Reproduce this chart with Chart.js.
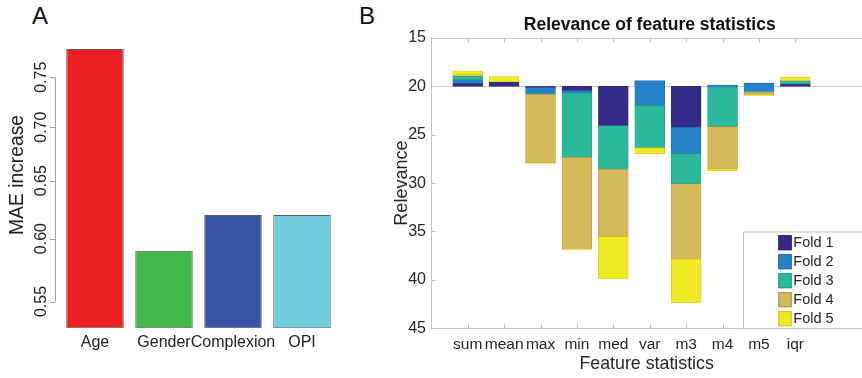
<!DOCTYPE html>
<html>
<head>
<meta charset="utf-8">
<script src="https://cdn.jsdelivr.net/npm/chart.js@4.4.1/dist/chart.umd.min.js"></script>
<style>
  html, body { margin: 0; padding: 0; background: #fff; overflow: hidden; }
  #wrap { position: relative; width: 862px; height: 378px; }
  canvas { position: absolute; top: 0; }
  #panelA { left: 0; }
  #panelB { left: 360px; }
  .tag { position: absolute; top: 4px; font: 24px/24px "Liberation Sans", Arial, sans-serif; color: #111; }
</style>
</head>
<body>
<div id="wrap">
  <div class="tag" style="left:32px">A</div>
  <div class="tag" style="left:359px">B</div>
  <canvas id="panelA" width="350" height="378"></canvas>
  <canvas id="panelB" width="502" height="378"></canvas>
</div>
<script>
// --- Panel A : MAE increase par variable
const maeCategories = ['Age', 'Gender', 'Complexion', 'OPI'];
const maeIncrease = [0.780, 0.590, 0.620, 0.620];
const maeTicks = [0.55, 0.60, 0.65, 0.70, 0.75];

// --- Panel B : relevance, empilée à partir de la valeur de base 20
const featureStats = ['sum', 'mean', 'max', 'min', 'med', 'var', 'm3', 'm4', 'm5', 'iqr'];
const foldNames = ['Fold 1', 'Fold 2', 'Fold 3', 'Fold 4', 'Fold 5'];
const relevanceBase = 20;
const fold1 = [-0.31, -0.45, 0.15, 0.45, 4.07, -0.55, 4.24, -0.13, -0.33, -0.24];
const fold2 = [-0.37, 0, 0.62, 0.25, 0, 2.55, 2.73, 0.23, 0.85, -0.02];
const fold3 = [-0.38, 0, 0.05, 6.65, 4.50, 4.34, 3.10, 4.07, 0.10, -0.27];
const fold4 = [-0.14, 0, 7.10, 9.47, 6.96, 0.03, 7.81, 4.37, 0.30, -0.10];
const fold5 = [-0.37, -0.55, 0.03, 0.03, 4.37, 0.60, 4.48, 0.18, 0.05, -0.31];
const relevanceTicks = [15, 20, 25, 30, 35, 40, 45];

const MAE_COLORS = ['#ed2024', '#42b74a', '#3954a4', '#6fcddd'];
const FOLD_COLORS = ['#352a87', '#2582c8', '#2ab99b', '#d6b958', '#f0ea23'];
const FOLD_EDGES = ['#2a2270', '#1f6ba6', '#23987f', '#a89047', '#c9c31f'];
const FONT = '"Liberation Sans", Arial, sans-serif';
const TXT = '#262626';
const AXIS = '#c4c4c4';

/** Axe Y de R (log) dessiné à la main : ligne, graduations, libellés tournés */
const maeAxis = {
  id: 'maeAxis',
  afterDraw(chart) {
    const { ctx, chartArea: a, scales: { y } } = chart;
    const ax = a.left - 5;
    ctx.save();
    ctx.strokeStyle = '#a0a0a0';
    ctx.lineWidth = 1;
    ctx.beginPath();
    ctx.moveTo(ax, y.getPixelForValue(maeTicks[maeTicks.length - 1]));
    ctx.lineTo(ax, y.getPixelForValue(maeTicks[0]));
    maeTicks.forEach(t => {
      const py = Math.round(y.getPixelForValue(t)) + 0.5;
      ctx.moveTo(ax, py);
      ctx.lineTo(ax - 5.5, py);
    });
    ctx.stroke();
    ctx.fillStyle = '#222';
    ctx.textAlign = 'center';
    ctx.textBaseline = 'alphabetic';
    ctx.font = '16px ' + FONT;
    maeTicks.forEach(t => {
      ctx.save();
      ctx.translate(ax - 10, y.getPixelForValue(t));
      ctx.rotate(-Math.PI / 2);
      ctx.fillText(t.toFixed(2), 0, 0);
      ctx.restore();
    });
    ctx.font = '19.3px ' + FONT;
    ctx.translate(23.3, 175);
    ctx.rotate(-Math.PI / 2);
    ctx.fillText('MAE increase', 0, 0);
    ctx.restore();
  }
};

new Chart(document.getElementById('panelA'), {
  type: 'bar',
  data: {
    labels: maeCategories,
    datasets: [{
      data: maeIncrease,
      backgroundColor: MAE_COLORS,
      borderColor: 'rgba(0,0,0,0.65)',
      borderWidth: 1,
      borderSkipped: false,
      barPercentage: 0.833,
      categoryPercentage: 1
    }]
  },
  options: {
    responsive: false,
    animation: false,
    layout: { padding: { left: 60.5, right: 13.5, top: 39.7, bottom: 0 } },
    plugins: { legend: { display: false }, tooltip: { enabled: false } },
    scales: {
      x: {
        grid: { display: false, drawTicks: false },
        border: { display: false },
        ticks: { color: '#222', font: { family: FONT, size: 16 }, padding: 4.9, maxRotation: 0, autoSkip: false },
        afterFit: s => { s.height = 49.7; }
      },
      y: {
        type: 'logarithmic',
        display: false,
        min: 0.5315,
        max: 0.79
      }
    }
  },
  plugins: [maeAxis]
});

/** Titre, cadre haut, graduations intérieures (style MATLAB) et légende */
const relevanceDecor = {
  id: 'relevanceDecor',
  afterDraw(chart) {
    const { ctx, chartArea: a, scales: { x, y } } = chart;
    ctx.save();
    ctx.strokeStyle = AXIS;
    ctx.lineWidth = 1;
    ctx.beginPath();
    ctx.moveTo(a.left, Math.round(a.top) + 0.5);
    ctx.lineTo(a.right, Math.round(a.top) + 0.5);
    featureStats.forEach((_, i) => {
      const px = Math.round(x.getPixelForValue(i + 1)) + 0.5;
      ctx.moveTo(px, a.top);
      ctx.lineTo(px, a.top + 4.5);
      ctx.moveTo(px, a.bottom);
      ctx.lineTo(px, a.bottom - 4.5);
    });
    relevanceTicks.forEach(t => {
      const py = Math.round(y.getPixelForValue(t)) + 0.5;
      ctx.moveTo(a.left, py);
      ctx.lineTo(a.left + 4, py);
    });
    ctx.stroke();

    // titre centré sur l'axe complet (0..12)
    ctx.fillStyle = '#111';
    ctx.font = 'bold 17.5px ' + FONT;
    ctx.textAlign = 'center';
    ctx.textBaseline = 'middle';
    ctx.fillText('Relevance of feature statistics', x.getPixelForValue(6), 25);

    // légende
    const bx = a.right - 119, by = 231.5;
    ctx.fillStyle = '#fff';
    ctx.fillRect(bx, by, a.right - bx, a.bottom - by);
    ctx.strokeStyle = AXIS;
    ctx.strokeRect(bx + 0.5, by + 0.5, a.right - bx + 5, a.bottom - by);
    ctx.font = '14.5px ' + FONT;
    ctx.textAlign = 'left';
    chart.data.datasets.forEach((ds, i) => {
      const cy = by + 11.2 + i * 19;
      ctx.fillStyle = ds.backgroundColor;
      ctx.fillRect(bx + 35.3, cy - 7.5, 13.4, 15);
      ctx.strokeStyle = ds.borderColor;
      ctx.strokeRect(bx + 35.8, cy - 7, 12.4, 14);
      ctx.fillStyle = TXT;
      ctx.fillText(ds.label, bx + 50.3, cy + 0.5);
    });
    ctx.restore();
  }
};

// segments flottants cumulés (fold suivant dessiné par-dessus le précédent)
const foldValues = [fold1, fold2, fold3, fold4, fold5];
const running = featureStats.map(() => relevanceBase);
const foldDatasets = foldValues.map((vals, f) => {
  const data = [];
  vals.forEach((v, i) => {
    const start = running[i];
    running[i] = start + v;
    if (v !== 0) data.push({ x: i + 1, y: [start, start + v] });
  });
  return {
    label: foldNames[f],
    data,
    backgroundColor: FOLD_COLORS[f],
    borderColor: FOLD_EDGES[f],
    borderWidth: 0.6,
    borderSkipped: false,
    inflateAmount: 0.4,
    grouped: false,
    barPercentage: 0.815,
    categoryPercentage: 1,
    order: foldNames.length - f
  };
});

new Chart(document.getElementById('panelB'), {
  type: 'bar',
  data: { datasets: foldDatasets },
  options: {
    responsive: false,
    animation: false,
    layout: { padding: { left: 0, right: 0, top: 37.9, bottom: 0 } },
    plugins: { legend: { display: false }, tooltip: { enabled: false } },
    scales: {
      x: {
        type: 'linear',
        min: 0,
        max: 11.83,
        offset: false,
        grid: { display: false, drawTicks: false, offset: false },
        border: { color: AXIS },
        afterBuildTicks: s => { s.ticks = featureStats.map((_, i) => ({ value: i + 1 })); },
        ticks: {
          callback: v => featureStats[v - 1],
          color: TXT,
          font: { family: FONT, size: 15.5 },
          padding: 7.5,
          autoSkip: false,
          maxRotation: 0
        },
        title: {
          display: true,
          text: 'Feature statistics',
          color: TXT,
          font: { family: FONT, size: 17.8 },
          padding: { top: 0, bottom: 3.3 }
        },
        afterFit: s => { s.height = 49.7; }
      },
      y: {
        reverse: true,
        min: 15,
        max: 45,
        grid: {
          drawTicks: false,
          color: c => (c.tick && c.tick.value === relevanceBase ? '#cfcfcf' : 'rgba(0,0,0,0)')
        },
        border: { color: AXIS },
        afterBuildTicks: s => { s.ticks = relevanceTicks.map(v => ({ value: v })); },
        ticks: { color: TXT, font: { family: FONT, size: 16 }, padding: 5.3 },
        title: {
          display: true,
          text: 'Relevance',
          color: TXT,
          font: { family: FONT, size: 18 },
          padding: { top: 31, bottom: 0 }
        },
        afterFit: s => { s.width = 71.3; }
      }
    }
  },
  plugins: [relevanceDecor]
});
</script>
</body>
</html>
